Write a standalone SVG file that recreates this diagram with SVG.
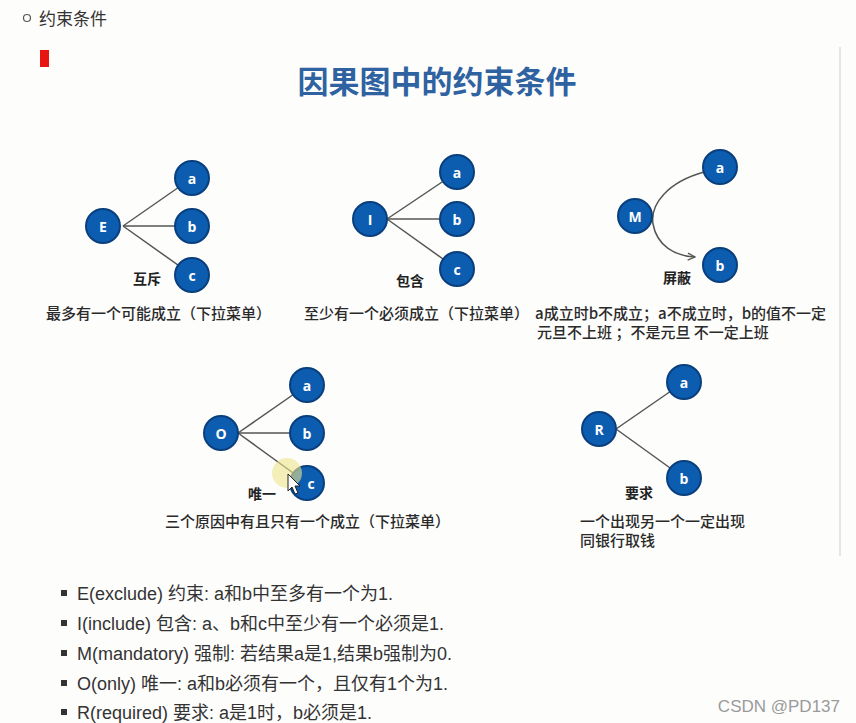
<svg xmlns="http://www.w3.org/2000/svg" width="856" height="723" viewBox="0 0 856 723">
<defs>
<style>
.n{fill:#0c5db0;stroke:#0a3f7e;stroke-width:2}
.nl{fill:#fff;font-family:"Open Sans","Liberation Sans",sans-serif;font-weight:bold;font-size:14px;text-anchor:middle;dominant-baseline:central}
.e{stroke:#555;stroke-width:1.5;fill:none}
.lb{font-family:"Noto Sans CJK SC",sans-serif;font-weight:bold;font-size:14px;fill:#222;text-anchor:middle;dominant-baseline:central}
.cap{font-family:"Noto Sans CJK SC",sans-serif;font-weight:500;font-size:15px;fill:#2a2a2a}
.bl{font-family:"Liberation Sans","Noto Sans CJK SC",sans-serif;font-size:18px;fill:#333}
.bs{fill:#333}
</style>
<marker id="ah" viewBox="0 0 10 10" refX="9" refY="5" markerWidth="9" markerHeight="9" orient="auto" markerUnits="userSpaceOnUse">
<path d="M1,1 L9,5 L1,9" fill="none" stroke="#555" stroke-width="1.5"/>
</marker>
</defs>
<rect width="856" height="723" fill="#fdfdfc"/>
<circle cx="27" cy="18" r="3.5" fill="none" stroke="#555" stroke-width="1.2"/>
<text x="39" y="25" font-family="Noto Sans CJK SC,sans-serif" font-size="17" fill="#333">约束条件</text>
<rect x="40" y="50" width="9" height="17" fill="#e8140f"/>
<line x1="840" y1="47" x2="840" y2="556" stroke="#ddd" stroke-width="1.5"/>
<text x="437" y="93" font-family="Noto Sans CJK SC,sans-serif" font-weight="bold" font-size="31" fill="#2f62a0" text-anchor="middle">因果图中的约束条件</text>

<g id="connectors">
<line class="e" x1="123" y1="226" x2="192" y2="178"/>
<line class="e" x1="123" y1="226" x2="192" y2="226"/>
<line class="e" x1="123" y1="226" x2="192" y2="275"/>
<line class="e" x1="387" y1="219" x2="457" y2="172"/>
<line class="e" x1="387" y1="219" x2="457" y2="219"/>
<line class="e" x1="387" y1="219" x2="457" y2="269"/>
<path class="e" d="M704,172 C668,182 650,204 653,224 C657,246 675,256 695,257" marker-end="url(#ah)"/>
<line class="e" x1="238" y1="433" x2="307" y2="385"/>
<line class="e" x1="238" y1="433" x2="307" y2="433"/>
<line class="e" x1="238" y1="433" x2="307" y2="483"/>
<line class="e" x1="616" y1="429" x2="684" y2="382"/>
<line class="e" x1="616" y1="429" x2="684" y2="478"/>
</g>

<g id="E"><circle class="n" cx="103" cy="226" r="17"/><text class="nl" x="103" y="226">E</text></g>
<g id="E-a"><circle class="n" cx="192" cy="178" r="17"/><text class="nl" x="192" y="178">a</text></g>
<g id="E-b"><circle class="n" cx="192" cy="226" r="17"/><text class="nl" x="192" y="226">b</text></g>
<g id="E-c"><circle class="n" cx="192" cy="275" r="17"/><text class="nl" x="192" y="275">c</text></g>
<text class="lb" x="147" y="278">互斥</text>
<text class="cap" x="46" y="319">最多有一个可能成立（下拉菜单）</text>

<g id="I"><circle class="n" cx="370" cy="219" r="17"/><text class="nl" x="370" y="219">I</text></g>
<g id="I-a"><circle class="n" cx="457" cy="172" r="17"/><text class="nl" x="457" y="172">a</text></g>
<g id="I-b"><circle class="n" cx="457" cy="219" r="17"/><text class="nl" x="457" y="219">b</text></g>
<g id="I-c"><circle class="n" cx="457" cy="269" r="17"/><text class="nl" x="457" y="269">c</text></g>
<text class="lb" x="410" y="280">包含</text>
<text class="cap" x="304" y="319">至少有一个必须成立（下拉菜单）</text>

<g id="M"><circle class="n" cx="635" cy="216" r="17"/><text class="nl" x="635" y="216">M</text></g>
<g id="M-a"><circle class="n" cx="720" cy="167" r="17"/><text class="nl" x="720" y="167">a</text></g>
<g id="M-b"><circle class="n" cx="720" cy="265" r="17"/><text class="nl" x="720" y="265">b</text></g>
<text class="lb" x="677" y="277">屏蔽</text>
<text class="cap" x="535" y="319">a成立时b不成立；a不成立时，b的值不一定</text>
<text class="cap" x="537" y="338">元旦不上班 ；不是元旦 不一定上班</text>

<g id="O"><circle class="n" cx="221" cy="433" r="17"/><text class="nl" x="221" y="433">O</text></g>
<g id="O-a"><circle class="n" cx="307" cy="385" r="17"/><text class="nl" x="307" y="385">a</text></g>
<g id="O-b"><circle class="n" cx="307" cy="433" r="17"/><text class="nl" x="307" y="433">b</text></g>
<g id="O-c"><circle class="n" cx="307" cy="483" r="17"/><text class="nl" x="311" y="483">c</text></g>
<circle cx="287" cy="473" r="15" fill="#efe48a" fill-opacity="0.6"/>
<path d="M288,474 L288,491 L292,487 L295,494 L298,493 L295,486 L300,486 Z" fill="#fff" stroke="#222" stroke-width="1"/>
<text class="lb" x="262" y="493">唯一</text>
<text class="cap" x="165" y="527">三个原因中有且只有一个成立（下拉菜单）</text>

<g id="R"><circle class="n" cx="599" cy="429" r="17"/><text class="nl" x="599" y="429">R</text></g>
<g id="R-a"><circle class="n" cx="684" cy="382" r="17"/><text class="nl" x="684" y="382">a</text></g>
<g id="R-b"><circle class="n" cx="684" cy="478" r="17"/><text class="nl" x="684" y="478">b</text></g>
<text class="lb" x="639" y="492">要求</text>
<text class="cap" x="580" y="527">一个出现另一个一定出现</text>
<text class="cap" x="580" y="546">同银行取钱</text>

<rect class="bs" x="61" y="590" width="6" height="6"/>
<text class="bl" x="77" y="600">E(exclude) 约束: a和b中至多有一个为1.</text>
<rect class="bs" x="61" y="620" width="6" height="6"/>
<text class="bl" x="77" y="630">I(include) 包含: a、b和c中至少有一个必须是1.</text>
<rect class="bs" x="61" y="650" width="6" height="6"/>
<text class="bl" x="77" y="660">M(mandatory) 强制: 若结果a是1,结果b强制为0.</text>
<rect class="bs" x="61" y="680" width="6" height="6"/>
<text class="bl" x="77" y="690">O(only) 唯一: a和b必须有一个，且仅有1个为1.</text>
<rect class="bs" x="61" y="709" width="6" height="6"/>
<text class="bl" x="77" y="719">R(required) 要求: a是1时，b必须是1.</text>

<text x="840" y="712" font-family="Liberation Sans,sans-serif" font-size="17" fill="#9a9a9a" text-anchor="end">CSDN @PD137</text>
</svg>
